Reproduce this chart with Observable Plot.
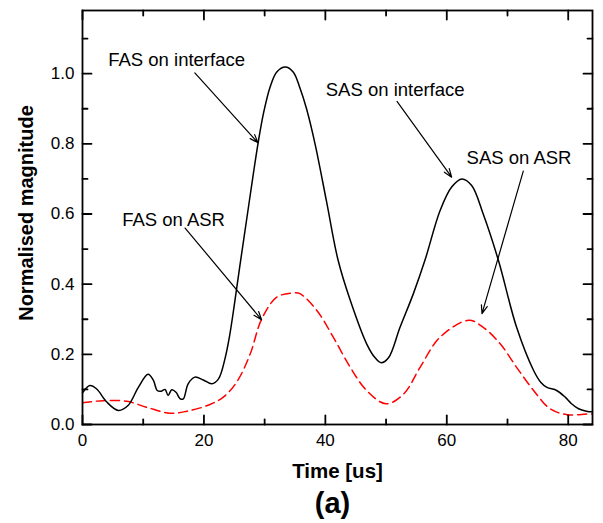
<!DOCTYPE html>
<html><head><meta charset="utf-8">
<script src="https://cdn.jsdelivr.net/npm/d3@7"></script>
<script src="https://cdn.jsdelivr.net/npm/@observablehq/plot@0.6"></script>
<style>
body{margin:0;background:#fff;font-family:"Liberation Sans",Arial,sans-serif;}
#wrap{position:relative;width:603px;height:523px;}
#cap{position:absolute;top:489px;left:332.5px;transform:translateX(-50%);font-weight:bold;font-size:29px;line-height:29px;color:#000;}
</style></head><body>
<div id="wrap"><div id="chart"></div><div id="cap">(a)</div></div>
<script>
const timeInterface = [0, 1.2, 2.3, 4.0, 5.9, 7.5, 9.2, 10.8, 11.7, 12.3, 13.0, 13.6, 14.1, 14.7, 15.4, 16.1, 16.6, 17.4, 18.5, 19.9, 21.3, 22.4, 23.5, 24.2, 25.0, 25.9, 27.0, 28.1, 28.9, 29.8, 30.9, 32.0, 33.4, 34.7, 35.8, 36.9, 38.3, 40.2, 42.1, 44.1, 46.8, 48.2, 49.2, 50.4, 52.3, 54.5, 56.4, 58.9, 60.8, 62.5, 64.1, 66.0, 68.5, 71.5, 74.3, 75.5, 76.5, 78.1, 79.5, 80.5, 81.7, 83.0, 84];
const magInterface = [0.09, 0.111, 0.102, 0.064, 0.040, 0.054, 0.106, 0.143, 0.125, 0.097, 0.095, 0.100, 0.083, 0.099, 0.092, 0.073, 0.073, 0.116, 0.135, 0.127, 0.116, 0.130, 0.19, 0.25, 0.34, 0.45, 0.58, 0.71, 0.80, 0.886, 0.962, 1.005, 1.019, 1.005, 0.96, 0.90, 0.80, 0.635, 0.468, 0.354, 0.23, 0.19, 0.176, 0.19, 0.277, 0.373, 0.468, 0.61, 0.677, 0.70, 0.681, 0.60, 0.468, 0.277, 0.154, 0.12, 0.106, 0.097, 0.078, 0.06, 0.045, 0.038, 0.036];
const timeASR = [0, 3.4, 7.3, 10.6, 14.4, 17.2, 21.0, 23.2, 25.4, 27.6, 29.5, 32.0, 34.7, 35.8, 38.6, 41.3, 44.1, 46.8, 50.0, 52.9, 55.6, 58.9, 63.6, 66.0, 68.8, 71.5, 74.3, 77.0, 79.8, 83.1, 84];
const magASR = [0.062, 0.068, 0.066, 0.049, 0.032, 0.038, 0.057, 0.078, 0.121, 0.20, 0.30, 0.363, 0.375, 0.373, 0.325, 0.249, 0.163, 0.097, 0.059, 0.087, 0.163, 0.249, 0.297, 0.277, 0.23, 0.163, 0.097, 0.045, 0.028, 0.03, 0.03];

const xMajor = [0, 20, 40, 60, 80];
const xMinor = [10, 30, 50, 70];
const yMajor = [0, 0.2, 0.4, 0.6, 0.8, 1.0];
const yMinor = [0.1, 0.3, 0.5, 0.7, 0.9, 1.1];
const yTickLabels = ["0.0", "0.2", "0.4", "0.6", "0.8", "1.0"];

const labelText = ["FAS on interface", "FAS on ASR", "SAS on interface", "SAS on ASR"];
const labelX = [15.5, 15.0, 51.5, 71.9];
const labelY = [1.040, 0.582, 0.952, 0.758];
const arrowX1 = [18.5, 16.9, 51.8, 72.6];
const arrowY1 = [1.002, 0.560, 0.921, 0.722];
const arrowX2 = [28.9, 29.5, 60.8, 65.8];
const arrowY2 = [0.803, 0.2985, 0.705, 0.316];

const interfaceData = timeInterface.map((t, i) => ({t, v: magInterface[i]}));
const asrData = timeASR.map((t, i) => ({t, v: magASR[i]}));
const labels = labelText.map((text, i) => ({text, x: labelX[i], y: labelY[i]}));
const arrows = labelText.map((text, i) => ({x1: arrowX1[i], y1: arrowY1[i], x2: arrowX2[i], y2: arrowY2[i]}));

const tickShape = {draw(context, l) { context.moveTo(0, 0); context.lineTo(0, -l); }};
const tw = 1.8;
function ticks(data, horizontal, anchor, rotate, length) {
  return Plot.vector(data, {
    [horizontal ? "x" : "y"]: d => d,
    frameAnchor: anchor, rotate, length, anchor: "start", shape: tickShape,
    stroke: "#000", strokeWidth: tw
  });
}

const chart = Plot.plot({
  width: 603, height: 488,
  marginLeft: 82, marginRight: 11, marginTop: 10, marginBottom: 64,
  style: {fontFamily: "'Liberation Sans', Arial, sans-serif", background: "#fff", color: "#000"},
  x: {domain: [0, 84]},
  y: {domain: [0, 1.18]},
  marks: [
    Plot.line(asrData, {x: "t", y: "v", stroke: "#ff0000", strokeWidth: 1.5, strokeDasharray: "9,5", curve: "catmull-rom"}),
    Plot.line(interfaceData, {x: "t", y: "v", stroke: "#000", strokeWidth: 1.5, curve: "catmull-rom"}),
    Plot.arrow(arrows, {x1: "x1", y1: "y1", x2: "x2", y2: "y2", stroke: "#000", strokeWidth: 1.2, headLength: 11, headAngle: 40}),
    Plot.text(labels, {x: "x", y: "y", text: "text", fontSize: 18.5, fill: "#000"}),
    Plot.frame({stroke: "#000", strokeWidth: tw}),
    ticks(xMajor, true, "bottom", 0, 9),
    ticks(xMinor, true, "bottom", 0, 5),
    ticks(xMajor, true, "top", 180, 9),
    ticks(xMinor, true, "top", 180, 5),
    ticks(yMajor, false, "left", 90, 9),
    ticks(yMinor, false, "left", 90, 5),
    ticks(yMajor, false, "right", -90, 9),
    ticks(yMinor, false, "right", -90, 5),
    Plot.axisX({ticks: xMajor, tickSize: 0, tickPadding: 9, fontSize: 17, label: null}),
    Plot.axisY({ticks: yMajor, tickSize: 0, tickPadding: 8, fontSize: 17, label: null, tickFormat: (d) => yTickLabels[yMajor.indexOf(d)]}),
    Plot.text(["Time [us]"], {frameAnchor: "bottom", text: d => d, dy: 53, lineAnchor: "bottom", textAnchor: "middle", fontSize: 20.5, fontWeight: "bold", fill: "#000"}),
    Plot.text(["Normalised magnitude"], {frameAnchor: "left", text: d => d, rotate: -90, dx: -56, dy: -4.5, textAnchor: "middle", fontSize: 20, fontWeight: "bold", fill: "#000"})
  ]
});
document.getElementById("chart").appendChild(chart);
</script>
</body></html>
